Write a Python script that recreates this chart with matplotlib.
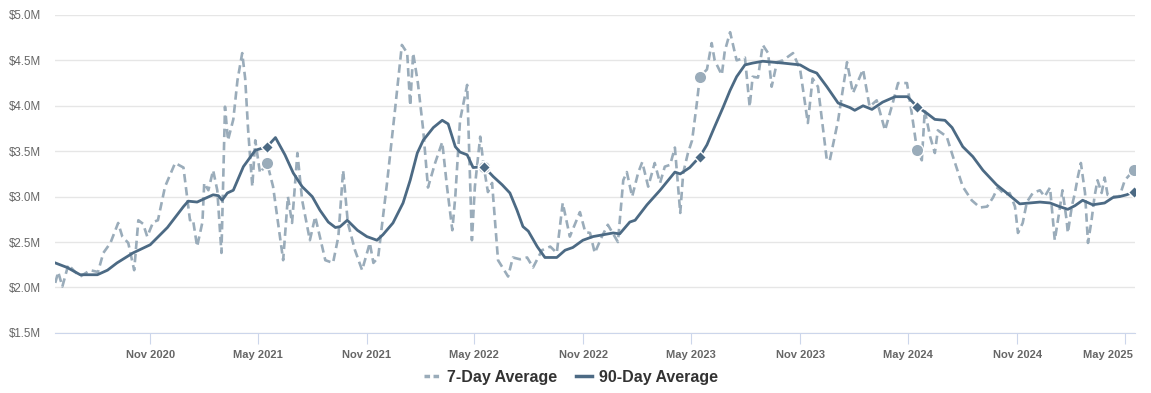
import pandas as pd
import matplotlib.pyplot as plt
import matplotlib.dates as mdates
import matplotlib.transforms as mtransforms
from matplotlib.ticker import FuncFormatter
from matplotlib.lines import Line2D

plt.rcParams['font.family'] = ['Liberation Sans', 'DejaVu Sans']

# 7-day average (turning points), $M
week_dates = [
    "2020-05-25", "2020-05-30", "2020-06-06", "2020-06-16", "2020-06-26", "2020-07-06",
    "2020-07-23", "2020-08-05", "2020-08-14", "2020-08-26", "2020-09-08", "2020-09-15",
    "2020-09-25", "2020-10-05", "2020-10-12", "2020-10-20", "2020-10-27", "2020-11-06",
    "2020-11-14", "2020-11-26", "2020-12-13", "2020-12-27", "2021-01-02", "2021-01-07",
    "2021-01-12", "2021-01-19", "2021-01-28", "2021-01-31", "2021-02-07", "2021-02-15",
    "2021-02-22", "2021-03-01", "2021-03-07", "2021-03-12", "2021-03-21", "2021-03-28",
    "2021-04-05", "2021-04-10", "2021-04-15", "2021-04-22", "2021-04-27", "2021-05-05",
    "2021-05-17", "2021-05-27", "2021-06-13", "2021-06-21", "2021-06-28", "2021-07-07",
    "2021-07-15", "2021-07-28", "2021-08-06", "2021-08-23", "2021-09-05", "2021-09-14",
    "2021-09-22", "2021-09-30", "2021-10-12", "2021-10-24", "2021-11-06", "2021-11-12",
    "2021-11-20", "2021-12-05", "2021-12-19", "2021-12-30", "2022-01-08", "2022-01-13",
    "2022-01-18", "2022-01-26", "2022-02-04", "2022-02-12", "2022-02-24", "2022-03-08",
    "2022-03-16", "2022-03-25", "2022-03-30", "2022-04-07", "2022-04-19", "2022-04-27",
    "2022-05-02", "2022-05-11", "2022-05-17", "2022-05-24", "2022-05-31", "2022-06-10",
    "2022-06-27", "2022-07-05", "2022-07-17", "2022-07-29", "2022-08-08", "2022-08-23",
    "2022-09-06", "2022-09-17", "2022-09-27", "2022-10-09", "2022-10-26", "2022-11-04",
    "2022-11-12", "2022-11-20", "2022-12-02", "2022-12-12", "2022-12-29", "2023-01-07",
    "2023-01-13", "2023-01-22", "2023-02-01", "2023-02-08", "2023-02-18", "2023-03-01",
    "2023-03-10", "2023-03-18", "2023-03-27", "2023-04-04", "2023-04-13", "2023-04-18",
    "2023-04-26", "2023-05-03", "2023-05-11", "2023-05-16", "2023-05-28", "2023-06-05",
    "2023-06-10", "2023-06-22", "2023-06-27", "2023-07-06", "2023-07-17", "2023-07-31",
    "2023-08-08", "2023-08-13", "2023-08-22", "2023-08-30", "2023-09-08", "2023-09-14",
    "2023-09-23", "2023-10-03", "2023-10-20", "2023-11-01", "2023-11-14", "2023-11-22",
    "2023-12-01", "2023-12-16", "2023-12-21", "2024-01-04", "2024-01-19", "2024-01-29",
    "2024-02-15", "2024-02-26", "2024-03-09", "2024-03-23", "2024-04-05", "2024-04-14",
    "2024-04-29", "2024-05-07", "2024-05-16", "2024-05-24", "2024-05-29", "2024-06-07",
    "2024-06-15", "2024-06-20", "2024-07-05", "2024-07-15", "2024-08-01", "2024-08-16",
    "2024-08-30", "2024-09-11", "2024-09-21", "2024-09-29", "2024-10-11", "2024-10-19",
    "2024-10-28", "2024-11-02", "2024-11-10", "2024-11-17", "2024-11-27", "2024-12-09",
    "2024-12-17", "2024-12-26", "2025-01-03", "2025-01-11", "2025-01-16", "2025-01-23",
    "2025-01-25", "2025-02-01", "2025-02-06", "2025-02-11", "2025-02-16", "2025-02-23",
    "2025-02-28", "2025-03-06", "2025-03-11", "2025-03-16", "2025-03-23", "2025-03-28",
    "2025-04-02", "2025-04-11", "2025-04-22", "2025-05-01", "2025-05-16",
]
week_avg = [
    2.05, 2.17, 2.01, 2.25, 2.18, 2.12,
    2.19, 2.17, 2.38, 2.49, 2.71, 2.56,
    2.49, 2.19, 2.74, 2.70, 2.56, 2.72,
    2.74, 3.11, 3.37, 3.32, 3.00, 2.74,
    2.75, 2.45, 2.72, 3.15, 3.07, 3.29,
    3.07, 2.38, 3.99, 3.62, 3.85, 4.28,
    4.58, 4.30, 3.73, 3.11, 3.62, 3.26,
    3.37, 3.11, 2.30, 3.00, 2.71, 3.48,
    2.96, 2.52, 2.78, 2.30, 2.27, 2.56,
    3.29, 2.71, 2.41, 2.19, 2.49, 2.27,
    2.33, 3.15, 3.99, 4.67, 4.58, 4.00,
    4.58, 4.25, 3.73, 3.10, 3.37, 3.60,
    3.11, 2.63, 3.00, 3.84, 4.23, 2.52,
    3.11, 3.66, 3.33, 3.05, 3.15, 2.30,
    2.12, 2.33, 2.31, 2.33, 2.22, 2.41,
    2.45, 2.38, 2.93, 2.56, 2.83, 2.61,
    2.60, 2.38, 2.56, 2.69, 2.50, 3.18,
    3.27, 3.00, 3.26, 3.38, 3.11, 3.37,
    3.15, 3.33, 3.35, 3.54, 2.82, 3.26,
    3.48, 3.62, 4.03, 4.32, 4.40, 4.69,
    4.50, 4.34, 4.60, 4.81, 4.50, 4.53,
    3.99, 4.32, 4.31, 4.67, 4.58, 4.21,
    4.48, 4.50, 4.58, 4.40, 3.81, 4.30,
    4.21, 3.40, 3.40, 3.84, 4.48, 4.14,
    4.40, 3.99, 4.06, 3.73, 4.03, 4.25,
    4.25, 3.92, 3.51, 3.40, 3.95, 3.66,
    3.48, 3.73, 3.66, 3.45, 3.11, 2.96,
    2.88, 2.89, 2.99, 3.10, 3.02, 3.04,
    2.89, 2.60, 2.71, 2.94, 3.04, 3.07,
    3.00, 3.10, 2.52, 2.85, 3.07, 2.74,
    2.60, 2.90, 3.04, 3.22, 3.37, 3.04,
    2.49, 2.74, 3.00, 3.18, 3.04, 3.21,
    3.02, 3.00, 3.00, 3.18, 3.29,
]

# 90-day average, $M
q_dates = [
    "2020-05-25", "2020-06-14", "2020-07-06", "2020-08-04", "2020-08-21", "2020-09-06",
    "2020-10-03", "2020-11-01", "2020-11-30", "2020-12-27", "2021-01-04", "2021-01-19",
    "2021-01-29", "2021-02-15", "2021-02-24", "2021-03-02", "2021-03-11", "2021-03-21",
    "2021-04-07", "2021-04-27", "2021-05-17", "2021-05-31", "2021-06-16", "2021-06-30",
    "2021-07-15", "2021-08-01", "2021-08-14", "2021-08-28", "2021-09-09", "2021-09-17",
    "2021-09-29", "2021-10-16", "2021-11-01", "2021-11-18", "2021-11-28", "2021-12-15",
    "2022-01-01", "2022-01-13", "2022-01-25", "2022-02-04", "2022-02-21", "2022-03-08",
    "2022-03-18", "2022-03-30", "2022-04-07", "2022-04-19", "2022-04-29", "2022-05-17",
    "2022-06-02", "2022-06-17", "2022-06-30", "2022-07-12", "2022-07-22", "2022-07-31",
    "2022-08-15", "2022-08-28", "2022-09-17", "2022-10-01", "2022-10-14", "2022-10-31",
    "2022-11-17", "2022-12-04", "2022-12-21", "2023-01-01", "2023-01-18", "2023-01-27",
    "2023-02-16", "2023-03-10", "2023-04-04", "2023-04-13", "2023-04-29", "2023-05-16",
    "2023-05-28", "2023-06-10", "2023-06-24", "2023-07-06", "2023-07-17", "2023-07-31",
    "2023-08-13", "2023-08-30", "2023-09-16", "2023-10-03", "2023-11-01", "2023-11-17",
    "2023-11-29", "2023-12-16", "2024-01-04", "2024-01-24", "2024-02-01", "2024-02-15",
    "2024-03-01", "2024-03-19", "2024-04-09", "2024-04-30", "2024-05-16", "2024-06-01",
    "2024-06-15", "2024-07-02", "2024-07-14", "2024-08-01", "2024-08-18", "2024-09-04",
    "2024-09-27", "2024-10-14", "2024-11-05", "2024-11-22", "2024-12-09", "2024-12-26",
    "2025-01-11", "2025-01-25", "2025-02-06", "2025-02-19", "2025-03-08", "2025-03-28",
    "2025-04-11", "2025-04-22", "2025-05-04", "2025-05-16",
]
q_avg = [
    2.27, 2.22, 2.14, 2.14, 2.19, 2.27,
    2.38, 2.47, 2.66, 2.89, 2.95, 2.94,
    2.97, 3.02, 3.01, 2.96, 3.04, 3.07,
    3.33, 3.51, 3.55, 3.65, 3.46, 3.26,
    3.11, 3.00, 2.85, 2.72, 2.66, 2.67,
    2.74, 2.63, 2.56, 2.52, 2.58, 2.71,
    2.93, 3.18, 3.48, 3.62, 3.76, 3.84,
    3.80, 3.55, 3.49, 3.46, 3.32, 3.33,
    3.22, 3.13, 3.04, 2.85, 2.67, 2.62,
    2.45, 2.33, 2.33, 2.41, 2.44, 2.52,
    2.56, 2.58, 2.60, 2.59, 2.72, 2.74,
    2.91, 3.07, 3.27, 3.25, 3.32, 3.44,
    3.57, 3.77, 3.98, 4.17, 4.32, 4.45,
    4.47, 4.49, 4.48, 4.47, 4.45, 4.39,
    4.36, 4.21, 4.03, 3.98, 3.95, 4.00,
    3.96, 4.04, 4.10, 4.10, 3.99, 3.92,
    3.85, 3.84, 3.76, 3.55, 3.44, 3.29,
    3.13, 3.04, 2.92, 2.93, 2.94, 2.93,
    2.89, 2.86, 2.90, 2.96, 2.91, 2.93,
    2.99, 3.00, 3.02, 3.05,
]

# yearly highlighted points
marker_dates = ["2021-05-17", "2022-05-17", "2023-05-16", "2024-05-16", "2025-05-16"]

c_week = "#9aacba"
c_q = "#4c6a84"

wk = pd.Series(week_avg, index=pd.to_datetime(week_dates))
qa = pd.Series(q_avg, index=pd.to_datetime(q_dates))
md = pd.to_datetime(marker_dates)

fig = plt.figure(figsize=(11.51, 3.93), dpi=100)
ax = fig.add_axes([0.048, 0.153, 0.938, 0.809])

ax.plot(wk.index, wk.values, color=c_week, lw=1.9, linestyle=(0, (3.2, 1.8)), zorder=2)
ax.plot(qa.index, qa.values, color=c_q, lw=2.0, zorder=3)
ax.plot(md, wk[md].values, 'o', ms=9, color=c_week, mec='white', mew=1, zorder=4)
ax.plot(md, qa[md].values, 'D', ms=6.5, color=c_q, mec='white', mew=1, zorder=5)

ax.set_ylim(1.5, 5.0)
ax.set_yticks([1.5, 2.0, 2.5, 3.0, 3.5, 4.0, 4.5, 5.0])
ax.yaxis.set_major_formatter(FuncFormatter(lambda v, p: f"${v:.1f}M"))
ax.set_xlim(wk.index[0], wk.index[-1] + pd.Timedelta(days=2))
ax.xaxis.set_major_locator(mdates.MonthLocator(bymonth=[5, 11]))
ax.xaxis.set_major_formatter(mdates.DateFormatter("%b %Y"))

ax.grid(True, axis='y', color='#e6e6e6', lw=1)
ax.set_axisbelow(True)
for s in ['top', 'right', 'left']:
    ax.spines[s].set_visible(False)
ax.spines['bottom'].set_color('#ccd6eb')
ax.tick_params(axis='y', length=0, labelsize=8.3, labelcolor='#666666', pad=10.5)
ax.tick_params(axis='x', length=8, color='#ccd6eb', labelsize=8, labelcolor='#666666', pad=4)
fig.canvas.draw()
xlabels = ax.get_xticklabels()
for lab in xlabels:
    lab.set_fontweight('bold')
# keep the last label inside the plot, like the original
xlabels[-1].set_horizontalalignment('right')
xlabels[-1].set_transform(xlabels[-1].get_transform() +
                          mtransforms.ScaledTranslation(8 / 100, 0, fig.dpi_scale_trans))

handles = [
    Line2D([], [], color=c_week, lw=2.5, linestyle=(0, (1.6, 1.0))),
    Line2D([], [], color=c_q, lw=2.5),
]
fig.legend(handles, ["7-Day Average", "90-Day Average"], loc='center', bbox_to_anchor=(0.496, 0.04),
           ncol=2, frameon=False, handlelength=1.0, columnspacing=1.2, handletextpad=0.45,
           prop={'weight': 'bold', 'size': 11.5}, labelcolor='#333333')

fig.savefig("out.png", dpi=100)
